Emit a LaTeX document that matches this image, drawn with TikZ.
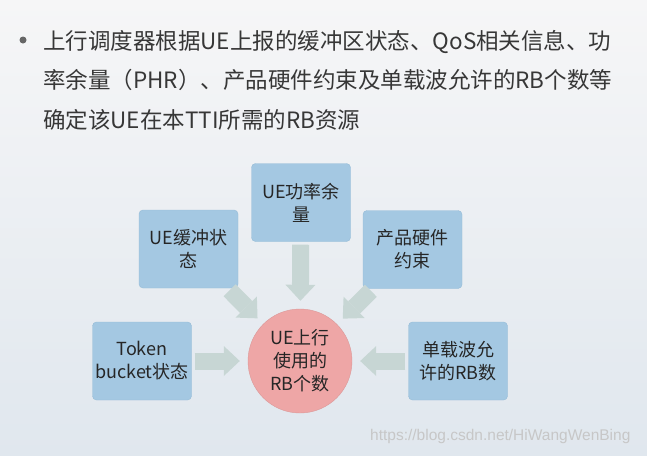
\documentclass[tikz,border=0pt]{standalone}
\usepackage{fontspec}
\setmainfont{Noto Sans CJK SC}
\newfontfamily\urlfont{Liberation Sans}
\usetikzlibrary{arrows.meta,positioning}
\definecolor{boxblue}{RGB}{164,200,226}
\definecolor{boxedge}{RGB}{150,188,215}
\definecolor{rbpink}{RGB}{238,166,166}
\definecolor{flowgrey}{RGB}{199,214,212}
\definecolor{textgrey}{RGB}{55,55,55}
\definecolor{bgtop}{RGB}{246,246,247}
\definecolor{bgbottom}{RGB}{224,231,238}
\tikzset{
  headline/.style={anchor=base west, inner sep=0pt, text=textgrey, font=\fontsize{22.5}{27}\selectfont},
  factor/.style={draw=boxedge, fill=boxblue, rounded corners=4pt, align=center, minimum width=99pt, minimum height=78pt, inner sep=2pt, text=black!85, font=\fontsize{18}{23}\selectfont},
  result/.style={circle, draw=rbpink!92!black, fill=rbpink, minimum size=104pt, inner sep=0pt, align=center, text=black!85, font=\fontsize{18}{23}\selectfont},
  flow/.style={draw=flowgrey, line width=17pt, -{Triangle[length=16pt, width=30pt, line width=0pt]}, shorten <=3pt, shorten >=8pt}
}
\begin{document}
\begin{tikzpicture}[x=1pt, y=-1pt]
  \useasboundingbox (0,0) rectangle (647,455);
  \shade[top color=bgtop, bottom color=bgbottom] (0,0) rectangle (647,455);
  % headline text
  \node[circle, fill=black!60, minimum size=7pt, inner sep=0pt] (dot) at (23,40) {};
  \node[headline] (line1) at (43,49) {上行调度器根据UE上报的缓冲区状态、QoS相关信息、功};
  \node[headline] (line2) at (43,88) {率余量（PHR）、产品硬件约束及单载波允许的RB个数等};
  \node[headline] (line3) at (43,128) {确定该UE在本TTI所需的RB资源};
  % factors around the RB count
  \node[result] (rb) at (300,361) {UE上行\\使用的\\RB个数};
  \node[factor] (power) at (301,202.5) {UE功率余\\量};
  \node[factor] (buffer) at (188.5,249) {UE缓冲状\\态};
  \node[factor] (hw) at (412.5,249.5) {产品硬件\\约束};
  \node[factor] (token) at (142,361) {Token\\bucket状态};
  \node[factor] (carrier) at (458,361) {单载波允\\许的RB数};
  \draw[flow] (power) -- (rb);
  \draw[flow] (buffer) -- (rb);
  \draw[flow] (hw) -- (rb);
  \draw[flow] (token) -- (rb);
  \draw[flow] (carrier) -- (rb);
  \node[anchor=west, inner sep=0pt, text=black!22, font=\urlfont\fontsize{15.5}{18}\selectfont] (url) at (370,436) {https://blog.csdn.net/HiWangWenBing};
\end{tikzpicture}
\end{document}
